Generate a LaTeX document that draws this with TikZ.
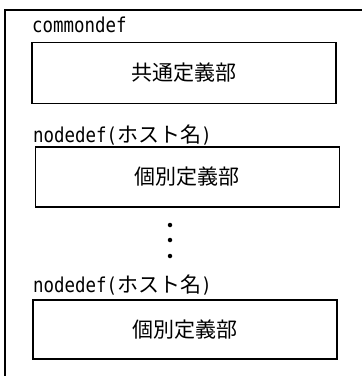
\documentclass[tikz,border=0pt]{standalone}
\usepackage{fontspec}
\setmainfont[FakeStretch=0.85]{DejaVu Sans Mono}
\newfontfamily\cjk{Noto Sans CJK JP}
\newcommand{\latinsize}{\fontsize{20.5}{24}\selectfont}
\newcommand{\cjksize}{\fontsize{21}{25}\selectfont}
\tikzset{
  defbox/.style={draw, line width=1.5pt, minimum width=304pt, minimum height=61pt, inner sep=0pt, font=\cjk\cjksize},
  deflabel/.style={anchor=base west, inner sep=0pt, font=\latinsize},
  gapdot/.style={circle, fill, inner sep=0pt, minimum size=4.5pt}
}
\begin{document}
\begin{tikzpicture}[x=1pt, y=1pt]
    % Page area: same proportions as the reference
    \useasboundingbox (0,0) rectangle (362,-376);

    % Outer frame (cut off at the right and at the bottom)
    \coordinate (frametr) at (363,-10);
    \coordinate (frametl) at (5,-10);
    \coordinate (framebl) at (5,-377);
    \draw[line width=1.5pt] (frametr) -- (frametl) -- (framebl);

    % Common definition part
    \node[deflabel] (commonlbl) at (32,-32) {commondef};
    \node[defbox] (commonbox) at (184,-73) {共通定義部};

    % First node definition part
    \node[deflabel] (nodelblA) at (33,-142) {nodedef({\cjk\cjksize ホスト名})};
    \node[defbox, minimum height=60pt] (nodeboxA) at (187.5,-177) {個別定義部};

    % Vertical ellipsis
    \foreach \y [count=\i] in {-225,-240,-256}
      \node[gapdot] (gap\i) at (170,\y) {};

    % Last node definition part
    \node[deflabel] (nodelblB) at (33,-292) {nodedef({\cjk\cjksize ホスト名})};
    \node[defbox, minimum height=59pt] (nodeboxB) at (185,-329.5) {個別定義部};
\end{tikzpicture}
\end{document}
